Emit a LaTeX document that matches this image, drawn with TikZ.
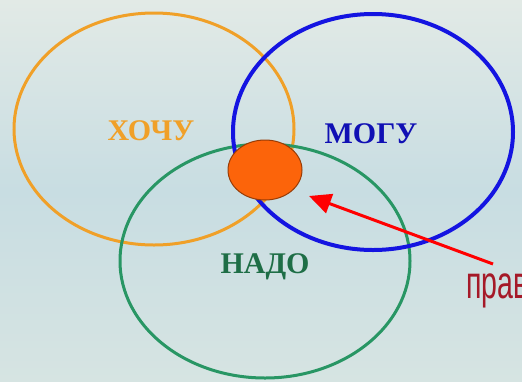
\documentclass[tikz,border=0pt]{standalone}
\usepackage{fontspec}
\setmainfont{Liberation Serif}
\newfontfamily\narrowfont{Liberation Sans}
\usetikzlibrary{shapes.geometric,arrows.meta}

\definecolor{bgtop}{RGB}{226,234,230}
\definecolor{bgmid}{RGB}{200,221,226}
\definecolor{bgbot}{RGB}{214,228,226}
\definecolor{wantcol}{RGB}{240,160,40}
\definecolor{cancol}{RGB}{20,20,225}
\definecolor{needcol}{RGB}{40,150,100}
\definecolor{needtxt}{RGB}{30,110,70}
\definecolor{dotcol}{RGB}{252,100,10}
\definecolor{rightcol}{RGB}{165,25,40}

\tikzset{
  ring/.style={ellipse,draw,inner sep=0pt,line width=#1},
  word/.style={font=\fontsize{30}{30}\selectfont\bfseries},
}

\begin{document}
\begin{tikzpicture}[x=1pt,y=-1pt]
  \useasboundingbox (0,0) rectangle (522,381);
  \clip (0,0) rectangle (522,381);
  % background
  \shade[top color=bgtop,bottom color=bgbot,middle color=bgmid] (0,0) rectangle (522,381);
  % ---------------- three rings ----------------
  \node[ring=3pt,wantcol,minimum width=280,minimum height=232] (want) at (154,129) {};
  \node[ring=3pt,needcol,minimum width=290,minimum height=234] (need) at (265,261) {};
  \node[ring=4pt,cancol,minimum width=280,minimum height=236] (can) at (373,132) {};
  % ---------------- centre dot ----------------
  \node[ellipse,fill=dotcol,draw=dotcol!60!black,line width=1pt,
        minimum width=74,minimum height=60,inner sep=0pt] (dot) at (265,170) {};
  % ---------------- labels ----------------
  \node[word,text=wantcol] (wantlbl) at (151,131) {ХОЧУ};
  \node[word,text=cancol!80!black] (canlbl) at (371,134) {МОГУ};
  \node[word,text=needtxt] (needlbl) at (265,267) {НАДО};
  % ---------------- arrow ----------------
  \coordinate (tail) at (493,264);
  \coordinate (tip) at (309,196);
  \draw[red,line width=3pt,-{Triangle[length=22pt,width=20pt]}] (tail) -- (tip);
  \node[anchor=base west,inner sep=0pt,xscale=0.62,text=rightcol,
        font=\narrowfont\fontsize{46}{46}\selectfont] (right) at (466,298) {прав};
\end{tikzpicture}
\end{document}
